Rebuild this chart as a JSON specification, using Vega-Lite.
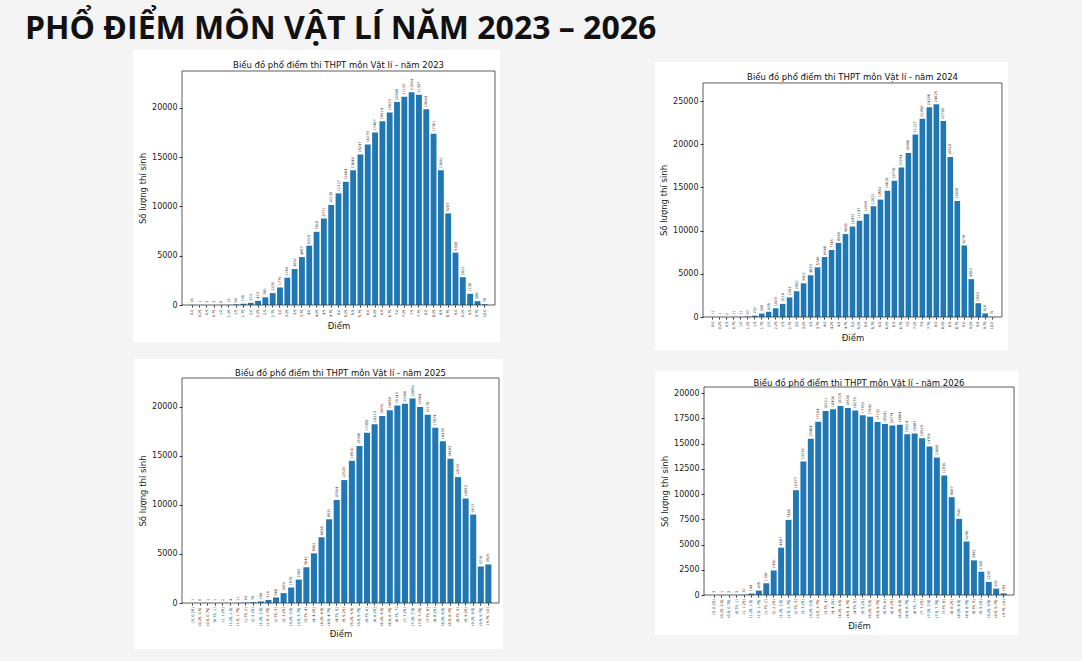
{
  "$schema": "https://vega.github.io/schema/vega-lite/v6.json",
  "background": "#f4f4f4",
  "padding": {"left": 25, "top": 13, "right": 64, "bottom": 13},
  "title": {
    "text": "PHỔ ĐIỂM MÔN VẬT LÍ NĂM 2023 – 2026",
    "anchor": "start",
    "dx": -108,
    "font": "Open Sans",
    "fontSize": 32,
    "fontWeight": "bold",
    "color": "#111",
    "offset": 4
  },
  "datasets": {
    "d2023": [
      {"diem": "0.0", "so": 16}, {"diem": "0.25", "so": 1}, {"diem": "0.5", "so": 3}, {"diem": "0.75", "so": 3},
      {"diem": "1.0", "so": 8}, {"diem": "1.25", "so": 13}, {"diem": "1.5", "so": 59}, {"diem": "1.75", "so": 130},
      {"diem": "2.0", "so": 223}, {"diem": "2.25", "so": 423}, {"diem": "2.5", "so": 780}, {"diem": "2.75", "so": 1209},
      {"diem": "3.0", "so": 1775}, {"diem": "3.25", "so": 2769}, {"diem": "3.5", "so": 3652}, {"diem": "3.75", "so": 4857},
      {"diem": "4.0", "so": 6015}, {"diem": "4.25", "so": 7418}, {"diem": "4.5", "so": 8771}, {"diem": "4.75", "so": 10138},
      {"diem": "5.0", "so": 11317}, {"diem": "5.25", "so": 12484}, {"diem": "5.5", "so": 13648}, {"diem": "5.75", "so": 15247},
      {"diem": "6.0", "so": 16279}, {"diem": "6.25", "so": 17487}, {"diem": "6.5", "so": 18624}, {"diem": "6.75", "so": 19523},
      {"diem": "7.0", "so": 20588}, {"diem": "7.25", "so": 21120}, {"diem": "7.5", "so": 21564}, {"diem": "7.75", "so": 21307},
      {"diem": "8.0", "so": 19844}, {"diem": "8.25", "so": 17361}, {"diem": "8.5", "so": 13661}, {"diem": "8.75", "so": 9287},
      {"diem": "9.0", "so": 5308}, {"diem": "9.25", "so": 2822}, {"diem": "9.5", "so": 1136}, {"diem": "9.75", "so": 388},
      {"diem": "10.0", "so": 78}
    ],
    "d2024": [
      {"diem": "0.0", "so": 11}, {"diem": "0.25", "so": 1}, {"diem": "0.5", "so": 2}, {"diem": "0.75", "so": 11},
      {"diem": "1.0", "so": 11}, {"diem": "1.25", "so": 57}, {"diem": "1.5", "so": 152}, {"diem": "1.75", "so": 398},
      {"diem": "2.0", "so": 605}, {"diem": "2.25", "so": 1009}, {"diem": "2.5", "so": 1518}, {"diem": "2.75", "so": 2263},
      {"diem": "3.0", "so": 2982}, {"diem": "3.25", "so": 3902}, {"diem": "3.5", "so": 4833}, {"diem": "3.75", "so": 5749},
      {"diem": "4.0", "so": 6948}, {"diem": "4.25", "so": 7745}, {"diem": "4.5", "so": 8580}, {"diem": "4.75", "so": 9600},
      {"diem": "5.0", "so": 10472}, {"diem": "5.25", "so": 11147}, {"diem": "5.5", "so": 11909}, {"diem": "5.75", "so": 12821},
      {"diem": "6.0", "so": 13592}, {"diem": "6.25", "so": 14618}, {"diem": "6.5", "so": 15778}, {"diem": "6.75", "so": 17294},
      {"diem": "7.0", "so": 18996}, {"diem": "7.25", "so": 21127}, {"diem": "7.5", "so": 22950}, {"diem": "7.75", "so": 24288},
      {"diem": "8.0", "so": 24625}, {"diem": "8.25", "so": 22700}, {"diem": "8.5", "so": 18518}, {"diem": "8.75", "so": 13439},
      {"diem": "9.0", "so": 8278}, {"diem": "9.25", "so": 4383}, {"diem": "9.5", "so": 1593}, {"diem": "9.75", "so": 418},
      {"diem": "10.0", "so": 15}
    ],
    "d2025": [
      {"diem": "[0, 0.25]", "so": 1}, {"diem": "(0.25, 0.5]", "so": 0}, {"diem": "(0.5, 0.75]", "so": 1}, {"diem": "(0.75, 1]", "so": 1},
      {"diem": "(1, 1.25]", "so": 2}, {"diem": "(1.25, 1.5]", "so": 4}, {"diem": "(1.5, 1.75]", "so": 11}, {"diem": "(1.75, 2]", "so": 43},
      {"diem": "(2, 2.25]", "so": 78}, {"diem": "(2.25, 2.5]", "so": 156}, {"diem": "(2.5, 2.75]", "so": 314}, {"diem": "(2.75, 3]", "so": 568},
      {"diem": "(3, 3.25]", "so": 1009}, {"diem": "(3.25, 3.5]", "so": 1575}, {"diem": "(3.5, 3.75]", "so": 2383}, {"diem": "(3.75, 4]", "so": 3642},
      {"diem": "(4, 4.25]", "so": 5062}, {"diem": "(4.25, 4.5]", "so": 6698}, {"diem": "(4.5, 4.75]", "so": 8531}, {"diem": "(4.75, 5]", "so": 10504},
      {"diem": "(5, 5.25]", "so": 12533}, {"diem": "(5.25, 5.5]", "so": 14510}, {"diem": "(5.5, 5.75]", "so": 15998}, {"diem": "(5.75, 6]", "so": 17355},
      {"diem": "(6, 6.25]", "so": 18223}, {"diem": "(6.25, 6.5]", "so": 19051}, {"diem": "(6.5, 6.75]", "so": 19659}, {"diem": "(6.75, 7]", "so": 20143},
      {"diem": "(7, 7.25]", "so": 20306}, {"diem": "(7.25, 7.5]", "so": 20850}, {"diem": "(7.5, 7.75]", "so": 19984}, {"diem": "(7.75, 8]", "so": 19178},
      {"diem": "(8, 8.25]", "so": 17874}, {"diem": "(8.25, 8.5]", "so": 16478}, {"diem": "(8.5, 8.75]", "so": 14693}, {"diem": "(8.75, 9]", "so": 12833},
      {"diem": "(9, 9.25]", "so": 10653}, {"diem": "(9.25, 9.5]", "so": 9017}, {"diem": "(9.5, 9.75]", "so": 3718}, {"diem": "(9.75, 10]", "so": 3929}
    ],
    "d2026": [
      {"diem": "[0, 0.25]", "so": 3}, {"diem": "(0.25, 0.5]", "so": 1}, {"diem": "(0.5, 0.75]", "so": 3}, {"diem": "(0.75, 1]", "so": 3},
      {"diem": "(1, 1.25]", "so": 32}, {"diem": "(1.25, 1.5]", "so": 144}, {"diem": "(1.5, 1.75]", "so": 435}, {"diem": "(1.75, 2]", "so": 1158},
      {"diem": "(2, 2.25]", "so": 2430}, {"diem": "(2.25, 2.5]", "so": 4687}, {"diem": "(2.5, 2.75]", "so": 7440}, {"diem": "(2.75, 3]", "so": 10377},
      {"diem": "(3, 3.25]", "so": 13230}, {"diem": "(3.25, 3.5]", "so": 15484}, {"diem": "(3.5, 3.75]", "so": 17164}, {"diem": "(3.75, 4]", "so": 18221},
      {"diem": "(4, 4.25]", "so": 18406}, {"diem": "(4.25, 4.5]", "so": 18725}, {"diem": "(4.5, 4.75]", "so": 18530}, {"diem": "(4.75, 5]", "so": 18279},
      {"diem": "(5, 5.25]", "so": 17793}, {"diem": "(5.25, 5.5]", "so": 17642}, {"diem": "(5.5, 5.75]", "so": 17132}, {"diem": "(5.75, 6]", "so": 16941},
      {"diem": "(6, 6.25]", "so": 16774}, {"diem": "(6.25, 6.5]", "so": 16864}, {"diem": "(6.5, 6.75]", "so": 15924}, {"diem": "(6.75, 7]", "so": 15987},
      {"diem": "(7, 7.25]", "so": 15529}, {"diem": "(7.25, 7.5]", "so": 14706}, {"diem": "(7.5, 7.75]", "so": 13606}, {"diem": "(7.75, 8]", "so": 11830},
      {"diem": "(8, 8.25]", "so": 9687}, {"diem": "(8.25, 8.5]", "so": 7541}, {"diem": "(8.5, 8.75]", "so": 5298}, {"diem": "(8.75, 9]", "so": 3432},
      {"diem": "(9, 9.25]", "so": 2305}, {"diem": "(9.25, 9.5]", "so": 1290}, {"diem": "(9.5, 9.75]", "so": 632}, {"diem": "(9.75, 10]", "so": 159}
    ]
  },
  "columns": 2,
  "align": "none",
  "spacing": {"row": 8, "column": 152},
  "concat": [
    {
      "width": 313,
      "height": 234,
      "layer": [
        {
          "data": {"values": [{}]},
          "encoding": {
            "x": {"datum": -0.1565, "type": "quantitative", "scale": {"domain": [0, 1], "nice": false, "zero": false}, "axis": null},
            "y": {"datum": -0.158, "type": "quantitative", "scale": {"domain": [0, 1], "nice": false, "zero": false}, "axis": null}
          },
          "layer": [
            {"mark": {"type": "rect", "fill": "white"}, "encoding": {"x2": {"datum": 1.016}, "y2": {"datum": 1.0897}}},
            {"mark": {"type": "text", "font": "DejaVu Sans", "fontSize": 8.5, "color": "#111", "dy": -6},
             "encoding": {"x": {"datum": 0.5, "type": "quantitative"}, "y": {"datum": 1, "type": "quantitative"},
                          "text": {"value": "Biểu đồ phổ điểm thi THPT môn Vật lí - năm 2023"}}}
          ]
        },
        {
          "data": {"name": "d2023"},
          "encoding": {
            "x": {"field": "diem", "type": "ordinal", "sort": null, "scale": {"paddingInner": 0.2, "paddingOuter": 2.04},
                  "axis": {"orient": "bottom", "zindex": 1, "title": "Điểm", "labelAngle": 270, "labelFontSize": 3.5, "labelOverlap": false, "tickSize": 2, "labelPadding": 2, "titlePadding": 5}},
            "y": {"field": "so", "type": "quantitative", "scale": {"domain": [0, 23720], "nice": false},
                  "axis": {"orient": "left", "zindex": 1, "format": "d", "title": "Số lượng thí sinh", "values": [0, 5000, 10000, 15000, 20000]}}
          },
          "layer": [
            {"mark": {"type": "bar", "color": "#1f77b4"}},
            {"mark": {"type": "text", "angle": 270, "align": "left", "baseline": "middle", "dx": 2, "fontSize": 3.5, "font": "DejaVu Sans", "color": "#333"},
             "encoding": {"text": {"field": "so", "type": "quantitative", "format": "d"}}}
          ]
        },
        {
          "data": {"values": [{}]},
          "mark": {"type": "rect", "filled": false, "color": "#333", "strokeWidth": 0.8},
          "encoding": {
            "x": {"datum": 0, "type": "quantitative", "scale": {"domain": [0, 1], "nice": false, "zero": false}, "axis": null},
            "x2": {"datum": 1},
            "y": {"datum": 0, "type": "quantitative", "scale": {"domain": [0, 1], "nice": false, "zero": false}, "axis": null},
            "y2": {"datum": 1}
          }
        }
      ],
      "resolve": {"scale": {"x": "independent", "y": "independent"}}
    },
    {
      "width": 299,
      "height": 246,
      "layer": [
        {
          "data": {"values": [{}]},
          "encoding": {
            "x": {"datum": -0.1605, "type": "quantitative", "scale": {"domain": [0, 1], "nice": false, "zero": false}, "axis": null},
            "y": {"datum": -0.13415, "type": "quantitative", "scale": {"domain": [0, 1], "nice": false, "zero": false}, "axis": null}
          },
          "layer": [
            {"mark": {"type": "rect", "fill": "white"}, "encoding": {"x2": {"datum": 1.02}, "y2": {"datum": 1.03659}}},
            {"mark": {"type": "text", "font": "DejaVu Sans", "fontSize": 8.5, "color": "#111", "dy": -6},
             "encoding": {"x": {"datum": 0.5, "type": "quantitative"}, "y": {"datum": 0.95122, "type": "quantitative"},
                          "text": {"value": "Biểu đồ phổ điểm thi THPT môn Vật lí - năm 2024"}}}
          ]
        },
        {
          "data": {"name": "d2024"},
          "encoding": {
            "x": {"field": "diem", "type": "ordinal", "sort": null, "scale": {"paddingInner": 0.2, "paddingOuter": 2.04},
                  "axis": {"orient": "bottom", "zindex": 1, "title": "Điểm", "labelAngle": 270, "labelFontSize": 3.5, "labelOverlap": false, "tickSize": 2, "labelPadding": 2, "titlePadding": 5}},
            "y": {"field": "so", "type": "quantitative", "scale": {"domain": [0, 28477], "nice": false},
                  "axis": {"orient": "left", "zindex": 1, "format": "d", "title": "Số lượng thí sinh", "titleY": 129, "values": [0, 5000, 10000, 15000, 20000, 25000]}}
          },
          "layer": [
            {"mark": {"type": "bar", "color": "#1f77b4"}},
            {"mark": {"type": "text", "angle": 270, "align": "left", "baseline": "middle", "dx": 2, "fontSize": 3.5, "font": "DejaVu Sans", "color": "#333"},
             "encoding": {"text": {"field": "so", "type": "quantitative", "format": "d"}}}
          ]
        },
        {
          "data": {"values": [{}]},
          "mark": {"type": "rect", "filled": false, "color": "#333", "strokeWidth": 0.8},
          "encoding": {
            "x": {"datum": 0, "type": "quantitative", "scale": {"domain": [0, 1], "nice": false, "zero": false}, "axis": null},
            "x2": {"datum": 1},
            "y": {"datum": 0, "type": "quantitative", "scale": {"domain": [0, 1], "nice": false, "zero": false}, "axis": null},
            "y2": {"datum": 0.95122}
          }
        }
      ],
      "resolve": {"scale": {"x": "independent", "y": "independent"}}
    },
    {
      "width": 317,
      "height": 225,
      "layer": [
        {
          "data": {"values": [{}]},
          "encoding": {
            "x": {"datum": -0.151, "type": "quantitative", "scale": {"domain": [0, 1], "nice": false, "zero": false}, "axis": null},
            "y": {"datum": -0.2044, "type": "quantitative", "scale": {"domain": [0, 1], "nice": false, "zero": false}, "axis": null}
          },
          "layer": [
            {"mark": {"type": "rect", "fill": "white"}, "encoding": {"x2": {"datum": 1.0126}, "y2": {"datum": 1.0844}}},
            {"mark": {"type": "text", "font": "DejaVu Sans", "fontSize": 8.5, "color": "#111", "dy": -5},
             "encoding": {"x": {"datum": 0.5, "type": "quantitative"}, "y": {"datum": 1, "type": "quantitative"},
                          "text": {"value": "Biểu đồ phổ điểm thi THPT môn Vật lí - năm 2025"}}}
          ]
        },
        {
          "data": {"name": "d2025"},
          "encoding": {
            "x": {"field": "diem", "type": "ordinal", "sort": null, "scale": {"paddingInner": 0.2, "paddingOuter": 1.99},
                  "axis": {"orient": "bottom", "zindex": 1, "title": "Điểm", "labelAngle": 270, "labelFontSize": 3.5, "labelOverlap": false, "tickSize": 2, "labelPadding": 2, "titlePadding": 4}},
            "y": {"field": "so", "type": "quantitative", "scale": {"domain": [0, 22935], "nice": false},
                  "axis": {"orient": "left", "zindex": 1, "format": "d", "title": "Số lượng thí sinh", "values": [0, 5000, 10000, 15000, 20000]}}
          },
          "layer": [
            {"mark": {"type": "bar", "color": "#1f77b4"}},
            {"mark": {"type": "text", "angle": 270, "align": "left", "baseline": "middle", "dx": 2, "fontSize": 3.5, "font": "DejaVu Sans", "color": "#333"},
             "encoding": {"text": {"field": "so", "type": "quantitative", "format": "d"}}}
          ]
        },
        {
          "data": {"values": [{}]},
          "mark": {"type": "rect", "filled": false, "color": "#333", "strokeWidth": 0.8},
          "encoding": {
            "x": {"datum": 0, "type": "quantitative", "scale": {"domain": [0, 1], "nice": false, "zero": false}, "axis": null},
            "x2": {"datum": 1},
            "y": {"datum": 0, "type": "quantitative", "scale": {"domain": [0, 1], "nice": false, "zero": false}, "axis": null},
            "y2": {"datum": 1}
          }
        }
      ],
      "resolve": {"scale": {"x": "independent", "y": "independent"}}
    },
    {
      "width": 310,
      "height": 208,
      "layer": [
        {
          "data": {"values": [{}]},
          "encoding": {
            "x": {"datum": -0.158, "type": "quantitative", "scale": {"domain": [0, 1], "nice": false, "zero": false}, "axis": null},
            "y": {"datum": -0.192, "type": "quantitative", "scale": {"domain": [0, 1], "nice": false, "zero": false}, "axis": null}
          },
          "layer": [
            {"mark": {"type": "rect", "fill": "#f4f4f4"}, "encoding": {"x2": {"datum": 1.0129}, "y": {"datum": 1.0769, "type": "quantitative"}, "y2": {"datum": 1.1346}}},
            {"mark": {"type": "rect", "fill": "white"}, "encoding": {"x2": {"datum": 1.0129}, "y2": {"datum": 1.0769}}},
            {"mark": {"type": "text", "font": "DejaVu Sans", "fontSize": 8.5, "color": "#111", "dy": -4.5},
             "encoding": {"x": {"datum": 0.5, "type": "quantitative"}, "y": {"datum": 1, "type": "quantitative"},
                          "text": {"value": "Biểu đồ phổ điểm thi THPT môn Vật lí - năm 2026"}}}
          ]
        },
        {
          "data": {"name": "d2026"},
          "encoding": {
            "x": {"field": "diem", "type": "ordinal", "sort": null, "scale": {"paddingInner": 0.2, "paddingOuter": 1.99},
                  "axis": {"orient": "bottom", "zindex": 1, "title": "Điểm", "labelAngle": 270, "labelFontSize": 3.5, "labelOverlap": false, "tickSize": 2, "labelPadding": 2, "titlePadding": 4}},
            "y": {"field": "so", "type": "quantitative", "scale": {"domain": [0, 20598], "nice": false},
                  "axis": {"orient": "left", "zindex": 1, "format": "d", "title": "Số lượng thí sinh", "values": [0, 2500, 5000, 7500, 10000, 12500, 15000, 17500, 20000]}}
          },
          "layer": [
            {"mark": {"type": "bar", "color": "#1f77b4"}},
            {"mark": {"type": "text", "angle": 270, "align": "left", "baseline": "middle", "dx": 2, "fontSize": 3.5, "font": "DejaVu Sans", "color": "#333"},
             "encoding": {"text": {"field": "so", "type": "quantitative", "format": "d"}}}
          ]
        },
        {
          "data": {"values": [{}]},
          "mark": {"type": "rect", "filled": false, "color": "#333", "strokeWidth": 0.8},
          "encoding": {
            "x": {"datum": 0, "type": "quantitative", "scale": {"domain": [0, 1], "nice": false, "zero": false}, "axis": null},
            "x2": {"datum": 1},
            "y": {"datum": 0, "type": "quantitative", "scale": {"domain": [0, 1], "nice": false, "zero": false}, "axis": null},
            "y2": {"datum": 1}
          }
        }
      ],
      "resolve": {"scale": {"x": "independent", "y": "independent"}}
    }
  ],
  "config": {
    "view": {"stroke": null},
    "axis": {
      "zindex": 1,
      "grid": false,
      "domain": false,
      "labelFont": "DejaVu Sans",
      "titleFont": "DejaVu Sans",
      "labelFontSize": 8,
      "titleFontSize": 8.5,
      "titleFontWeight": "normal",
      "labelColor": "#222",
      "titleColor": "#222",
      "tickColor": "#333",
      "tickSize": 3,
      "labelPadding": 2,
      "titlePadding": 4
    }
  }
}
